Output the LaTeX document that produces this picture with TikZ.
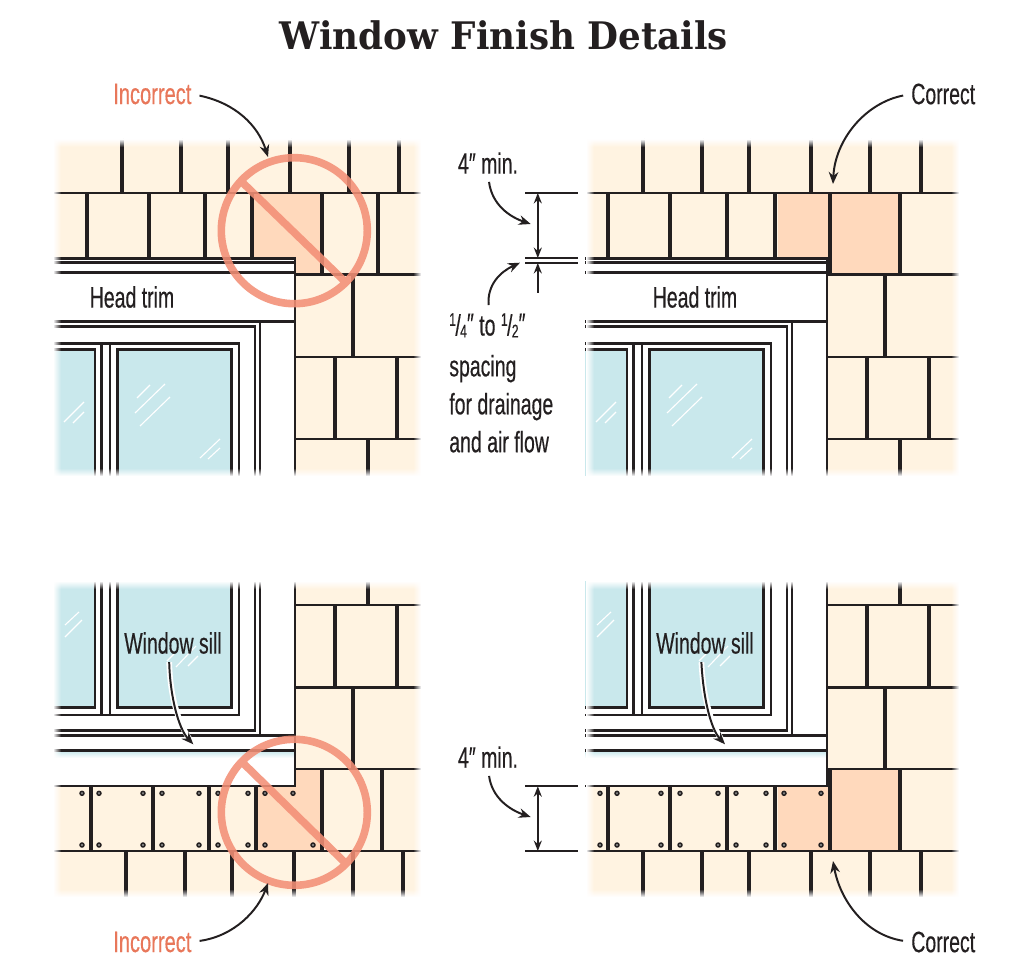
\documentclass[tikz,border=0pt]{standalone}
\usepackage{fontspec}
\usepackage{xcolor}
\setmainfont{Liberation Sans}
\newfontfamily\labelfont[FakeStretch=0.66,FakeBold=0.35]{Liberation Sans}
\newfontfamily\wrongfont[FakeStretch=0.68,FakeBold=0.35]{Liberation Sans}
\newfontfamily\titlefont[FakeStretch=0.94]{DejaVu Serif Bold}
\usetikzlibrary{arrows.meta,fadings}
\definecolor{inkline}{HTML}{231F20}
\definecolor{sidingcream}{HTML}{FFF3E1}
\definecolor{sidingorange}{HTML}{FFD9BC}
\definecolor{glassblue}{HTML}{C9E8EC}
\definecolor{ringred}{HTML}{F38F76}
\definecolor{wrongred}{HTML}{E8775A}
\tikzfading[name=fromleft, left color=transparent!0, right color=transparent!100]
\tikzfading[name=fromright, left color=transparent!100, right color=transparent!0]
\tikzfading[name=fromtop, top color=transparent!0, bottom color=transparent!100]
\tikzfading[name=frombottom, top color=transparent!100, bottom color=transparent!0]
\tikzset{
    sidingline/.style={draw=inkline, line width=2.9pt},
    courseline/.style={draw=inkline, line width=2pt},
    trimline/.style={draw=inkline, line width=2pt},
    dimline/.style={draw=inkline, line width=1.4pt},
    dimarrow/.style={draw=inkline, line width=1.4pt, {Stealth[length=2.6mm,width=2mm]}-{Stealth[length=2.6mm,width=2mm]}},
    gaparrow/.style={draw=inkline, line width=1.4pt, -{Stealth[length=2.6mm,width=2mm]}},
    callout/.style={draw=inkline, line width=1.4pt, -{Stealth[length=3mm,width=2.4mm]}, shorten <=2mm},
    haloarrow/.style={callout, preaction={draw=white, line width=4pt, -{}, shorten >=-1mm}},
    notring/.style={draw=ringred, line width=5.4pt, draw opacity=0.88},
    glare/.style={draw=white, line width=0.8pt},
    nail/.style={draw=inkline, fill=gray, line width=1pt},
    note/.style={font=\labelfont\fontsize{21}{27}\selectfont, text=inkline, inner sep=0pt},
    wrongnote/.style={note, font=\wrongfont\fontsize{21}{27}\selectfont, text=wrongred},
}
\newcommand{\gapfrac}[2]{\raisebox{0.62ex}{\fontsize{13}{13}\selectfont #1}\kern-0.02em/\kern-0.02em\raisebox{-0.12ex}{\fontsize{13}{13}\selectfont #2}\raisebox{0.1ex}{″}}

\begin{document}
\begin{tikzpicture}[x=0.025cm, y=-0.025cm]
    \useasboundingbox (0,0) rectangle (1024,977);

    \node[font=\titlefont\fontsize{27}{27}\selectfont, text=inkline, inner sep=0pt] (title) at (504,35) {Window Finish Details};

    % Siding fields
    \fill[sidingcream] (53,139) rectangle (421,476);
    \fill[sidingcream] (586,139) rectangle (959,476);
    \fill[sidingcream] (53,581) rectangle (421,897);
    \fill[sidingcream] (586,581) rectangle (959,897);

    % Highlighted shingles
    \fill[sidingorange] (254,193) rectangle (320,275);
    \fill[sidingorange] (778,193) rectangle (828,258);
    \fill[sidingorange] (832,193) rectangle (899,275);
    \fill[sidingorange] (258,769) rectangle (320,851);
    \fill[sidingorange] (778,786) rectangle (828,851);
    \fill[sidingorange] (832,769) rectangle (899,851);

    % Head of window, both panels
    \foreach \dx in {0,532} {
        \begin{scope}[shift={(\dx,0)}]
            \fill[white] (53,258) rectangle (295,476);
            \fill[glassblue] (53,349) rectangle (95,476);
            \fill[glassblue] (117,349) rectangle (232,476);
            \draw[trimline] (53,258.3) -- (295,258.3) -- (295,476);
            \draw[trimline] (53,262.7) -- (295,262.7);
            \draw[trimline] (53,272.7) -- (295,272.7);
            \draw[trimline] (53,321.7) -- (295,321.7);
            \draw[trimline] (53,326.7) -- (255,326.7) -- (255,476);
            \draw[trimline] (260,321.7) -- (260,476);
            \draw[trimline] (53,343.3) -- (239,343.3) -- (239,476);
            \draw[trimline] (53,349.3) -- (95,349.3) -- (95,476);
            \draw[trimline] (117.3,476) -- (117.3,349.3) -- (231.7,349.3) -- (231.7,476);
            \draw[trimline] (101.7,343.3) -- (101.7,476);
            \draw[trimline] (110,343.3) -- (110,476);
            \draw[glare] (137,398) -- (150,385);
            \draw[glare] (135,413) -- (165,384);
            \draw[glare] (140,426) -- (170,397);
            \draw[glare] (200,458) -- (220,439);
            \draw[glare] (208,459) -- (220,448);
            \draw[glare] (64,422) -- (84,402);
            \draw[glare] (73,423) -- (84,412);
        \end{scope}
    }

    % Sill of window, both panels
    \foreach \dx in {0,532} {
        \begin{scope}[shift={(\dx,0)}]
            \fill[white] (53,581) rectangle (295,786);
            \fill[glassblue] (53,581) rectangle (95,708);
            \fill[glassblue] (117,581) rectangle (232,708);
            \shade[top color=glassblue, bottom color=white] (53,751) rectangle (295,758);
            \draw[trimline] (53,786) -- (295,786) -- (295,581);
            \draw[trimline] (53,750.7) -- (295,750.7);
            \draw[trimline] (53,735.7) -- (295,735.7);
            \draw[trimline] (53,730.3) -- (255,730.3) -- (255,581);
            \draw[trimline] (260,581) -- (260,735.7);
            \draw[trimline] (53,715) -- (239,715) -- (239,581);
            \draw[trimline] (53,707.7) -- (95,707.7) -- (95,581);
            \draw[trimline] (117.3,581) -- (117.3,707.7) -- (231.7,707.7) -- (231.7,581);
            \draw[trimline] (101.7,581) -- (101.7,715);
            \draw[trimline] (110,581) -- (110,715);
            \draw[glare] (65,625) -- (79,612);
            \draw[glare] (65,637) -- (82,620);
            \draw[glare] (167,661) -- (174,654);
            \draw[glare] (176,667) -- (196,646);
            \draw[glare] (188,666) -- (198,656);
        \end{scope}
    }

    % Siding lines, upper left
    \draw[courseline] (53,193) -- (421,193);
    \foreach \y in {274.7,357,439} \draw[courseline] (295,\y) -- (421,\y);
    \foreach \x in {122,181,228,290,349,399} \draw[sidingline] (\x,139) -- (\x,193);
    \foreach \x in {87,149,205,252} \draw[sidingline] (\x,193) -- (\x,258);
    \foreach \x in {322,378} \draw[sidingline] (\x,193) -- (\x,275);
    \draw[sidingline] (353,275) -- (353,357);
    \foreach \x in {335,397} \draw[sidingline] (\x,357) -- (\x,439);
    \draw[sidingline] (368,439) -- (368,476);

    % Siding lines, upper right
    \draw[courseline] (586,193) -- (959,193);
    \foreach \y in {274.7,357,439} \draw[courseline] (827,\y) -- (959,\y);
    \foreach \x in {643,702,749,811,870,921} \draw[sidingline] (\x,139) -- (\x,193);
    \foreach \x in {608,670,727,775} \draw[sidingline] (\x,193) -- (\x,258);
    \foreach \x in {830,900} \draw[sidingline] (\x,193) -- (\x,275);
    \draw[sidingline] (885,275) -- (885,357);
    \foreach \x in {867,929} \draw[sidingline] (\x,357) -- (\x,439);
    \draw[sidingline] (900,439) -- (900,476);

    % Siding lines, lower left
    \draw[courseline] (53,851) -- (421,851);
    \foreach \y in {605,687.3,769} \draw[courseline] (295,\y) -- (421,\y);
    \draw[sidingline] (368,581) -- (368,605);
    \foreach \x in {335,397} \draw[sidingline] (\x,605) -- (\x,687);
    \draw[sidingline] (353,687) -- (353,769);
    \foreach \x in {322,382} \draw[sidingline] (\x,769) -- (\x,851);
    \foreach \x in {91,153,209,256} \draw[sidingline] (\x,786) -- (\x,851);
    \foreach \x in {126,185,232,294,353,403} \draw[sidingline] (\x,851) -- (\x,897);

    % Siding lines, lower right
    \draw[courseline] (586,851) -- (959,851);
    \foreach \y in {605,687.3,769} \draw[courseline] (827,\y) -- (959,\y);
    \draw[sidingline] (900,581) -- (900,605);
    \foreach \x in {867,929} \draw[sidingline] (\x,605) -- (\x,687);
    \draw[sidingline] (885,687) -- (885,769);
    \foreach \x in {830,900} \draw[sidingline] (\x,769) -- (\x,851);
    \foreach \x in {608,670,727,775} \draw[sidingline] (\x,786) -- (\x,851);
    \foreach \x in {643,702,749,811,870,921} \draw[sidingline] (\x,851) -- (\x,897);

    % Nails
    \foreach \x in {82,99,143,162,199,218,248,265,293} \fill[nail] (\x,793.3) circle [radius=2];
    \foreach \x in {82,99,143,162,199,218,248,265,313} \fill[nail] (\x,845) circle [radius=2];
    \foreach \x in {600,617,661,680,718,736,766,784,821} {
        \fill[nail] (\x,793.3) circle [radius=2];
        \fill[nail] (\x,845) circle [radius=2];
    }

    % Soft edges of the four fields
    \foreach \xa/\ya/\xb/\yb in {53/139/421/476, 586/139/959/476, 53/581/421/897, 586/581/959/897} {
        \fill[white, path fading=fromleft] (\xa,\ya) rectangle (\xa+8,\yb);
        \fill[white, path fading=fromright] (\xb-8,\ya) rectangle (\xb,\yb);
        \fill[white, path fading=fromtop] (\xa,\ya) rectangle (\xb,\ya+8);
        \fill[white, path fading=frombottom] (\xa,\yb-8) rectangle (\xb,\yb);
    }

    % Prohibition rings
    \draw[notring] (294.3,230.7) circle [radius=73] (243.3,183.3) -- (346.7,283.3);
    \draw[notring] (294.3,812.3) circle [radius=73] (243.3,763.3) -- (346.7,864.3);

    % Labels
    \node[wrongnote, anchor=west] (incorrecttop) at (113,94) {Incorrect};
    \node[note, anchor=west] (correcttop) at (911,94) {Correct};
    \node[wrongnote, anchor=west] (incorrectbot) at (113,942) {Incorrect};
    \node[note, anchor=west] (correctbot) at (911,942) {Correct};
    \node[note] (heada) at (132,297) {Head trim};
    \node[note] (headb) at (695,297) {Head trim};
    \node[note] (silla) at (173,643) {Window sill};
    \node[note] (sillb) at (705,643) {Window sill};
    \node[note] (mintop) at (488,163) {4″ min.};
    \node[note] (minbot) at (488,757) {4″ min.};
    \node[note, anchor=north west, align=left] (gapnote) at (449,313) {\gapfrac{1}{4} to \gapfrac{1}{2}\\[2pt]spacing\\for drainage\\and air flow};

    % Callouts
    \coordinate (ringtop) at (268,157);
    \coordinate (ringbot) at (268,883);
    \coordinate (jointtop) at (833,184);
    \coordinate (jointbot) at (833,861);
    \coordinate (mintopend) at (530.7,224);
    \coordinate (minbotend) at (530.7,817);
    \coordinate (gapend) at (520,262.7);
    \coordinate (sillaend) at (193.3,744.3);
    \coordinate (sillbend) at (725,744.3);
    \draw[callout] (incorrecttop.east) .. controls (235,103) and (258,125) .. (ringtop);
    \draw[callout] (correcttop.west) .. controls (865,103) and (835,140) .. (jointtop);
    \draw[callout] (incorrectbot.east) .. controls (235,936) and (258,910) .. (ringbot);
    \draw[callout] (correctbot.west) .. controls (865,935) and (840,900) .. (jointbot);
    \draw[callout] (mintop.south) .. controls (492,205) and (510,217) .. (mintopend);
    \draw[callout] (minbot.south) .. controls (492,798) and (510,810) .. (minbotend);
    \draw[callout] ([xshift=-3mm]gapnote.north) .. controls (487,285) and (500,272) .. (gapend);
    \draw[haloarrow] ([xshift=-1mm]silla.south) .. controls (170,695) and (178,728) .. (sillaend);
    \draw[haloarrow] ([xshift=-1mm]sillb.south) .. controls (703,695) and (710,728) .. (sillbend);

    % Dimension marks
    \coordinate (dimtopa) at (525,193);
    \coordinate (dimtopb) at (578,193);
    \coordinate (dimgapa) at (525,258.3);
    \coordinate (dimgapb) at (578,258.3);
    \coordinate (dimgapc) at (525,262.7);
    \coordinate (dimgapd) at (578,262.7);
    \coordinate (dimbota) at (525,786.3);
    \coordinate (dimbotb) at (578,786.3);
    \coordinate (dimbotc) at (525,851);
    \coordinate (dimbotd) at (578,851);
    \draw[dimline] (dimtopa) -- (dimtopb);
    \draw[dimline] (dimgapa) -- (dimgapb);
    \draw[dimline] (dimgapc) -- (dimgapd);
    \draw[dimline] (dimbota) -- (dimbotb);
    \draw[dimline] (dimbotc) -- (dimbotd);
    \draw[dimarrow] (537.8,193) -- (537.8,258);
    \draw[gaparrow] (537.8,293) -- (537.8,263);
    \draw[dimarrow] (537.8,786.3) -- (537.8,851);
\end{tikzpicture}
\end{document}
